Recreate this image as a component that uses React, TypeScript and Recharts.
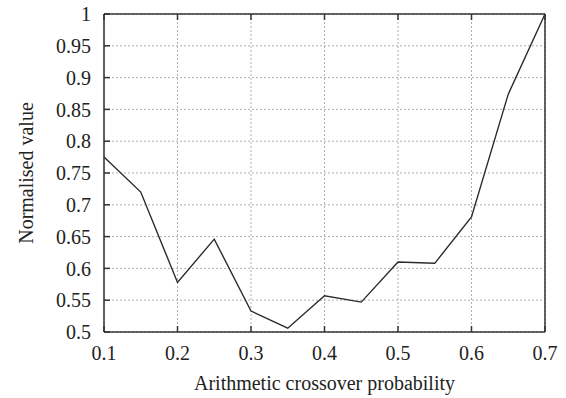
import { LineChart, Line, XAxis, YAxis, CartesianGrid, Label } from 'recharts';

// arithmetic crossover probability vs normalised value
const probabilities = [0.1, 0.15, 0.2, 0.25, 0.3, 0.35, 0.4, 0.45, 0.5, 0.55, 0.6, 0.65, 0.7];
const normalisedValues = [0.775, 0.72, 0.578, 0.646, 0.533, 0.506, 0.557, 0.547, 0.61, 0.608, 0.681, 0.874, 1.0];

const xTicks = [0.1, 0.2, 0.3, 0.4, 0.5, 0.6, 0.7];
const yTicks = [0.5, 0.55, 0.6, 0.65, 0.7, 0.75, 0.8, 0.85, 0.9, 0.95, 1];

const data = probabilities.map((p, i) => ({ p, value: normalisedValues[i] }));

const font = '"Liberation Serif", "DejaVu Serif", serif';
const ink = '#222';
const border = { stroke: '#333', strokeWidth: 1.5 };
const tickStyle = { fill: ink, fontSize: 20, fontFamily: font };

const noLabel = () => <g />;

export default function App() {
  return (
    <div style={{ position: 'absolute', left: 0, top: 0, background: '#fff' }}>
      <LineChart width={566} height={398} data={data} margin={{ top: 0, right: 0, bottom: 0, left: 0 }}>
        <CartesianGrid stroke="#9a9a9a" strokeWidth={0.8} strokeDasharray="2 2" />
        <XAxis
          dataKey="p"
          type="number"
          domain={[0.1, 0.7]}
          ticks={xTicks}
          height={66}
          axisLine={border}
          tickLine={border}
          tickSize={-6}
          tickMargin={20}
          tick={tickStyle}
          interval={0}
        >
          <Label
            content={({ viewBox }: any) => (
              <text
                x={viewBox.x + viewBox.width / 2}
                y={390}
                textAnchor="middle"
                fill={ink}
                fontSize={20}
                fontFamily={font}
              >
                Arithmetic crossover probability
              </text>
            )}
          />
        </XAxis>
        <XAxis
          xAxisId="top"
          orientation="top"
          dataKey="p"
          type="number"
          domain={[0.1, 0.7]}
          ticks={xTicks}
          height={14}
          axisLine={border}
          tickLine={border}
          tickSize={-6}
          tick={noLabel}
          interval={0}
        />
        <YAxis
          type="number"
          domain={[0.5, 1]}
          ticks={yTicks}
          width={104}
          axisLine={border}
          tickLine={border}
          tickSize={-6}
          tickMargin={19}
          tick={tickStyle}
          interval={0}
        >
          <Label
            content={({ viewBox }: any) => {
              const cy = viewBox.y + viewBox.height / 2;
              return (
                <text
                  x={33}
                  y={cy}
                  transform={`rotate(-90, 33, ${cy})`}
                  textAnchor="middle"
                  fill={ink}
                  fontSize={20}
                  fontFamily={font}
                >
                  Normalised value
                </text>
              );
            }}
          />
        </YAxis>
        <YAxis
          yAxisId="right"
          orientation="right"
          type="number"
          domain={[0.5, 1]}
          ticks={yTicks}
          width={21}
          axisLine={border}
          tickLine={border}
          tickSize={-6}
          tick={noLabel}
          interval={0}
        />
        <Line
          type="linear"
          dataKey="value"
          stroke="#2b2b2b"
          strokeWidth={1.4}
          dot={false}
          isAnimationActive={false}
        />
      </LineChart>
    </div>
  );
}
